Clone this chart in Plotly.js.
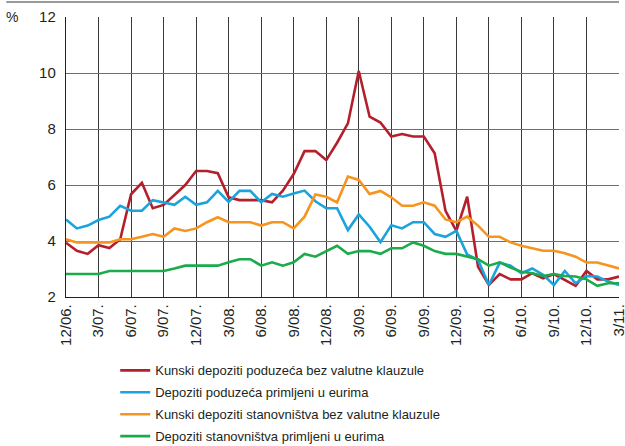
<!DOCTYPE html>
<html><head><meta charset="utf-8">
<script src="https://cdn.plot.ly/plotly-3.0.1.min.js"></script>
<style>body{margin:0;padding:0;background:#fff}#chart{width:625px;height:446px}</style>
</head><body><div id="chart"></div>
<script>
const tickLabels = ["12/06.","3/07.","6/07.","9/07.","12/07.","3/08.","6/08.","9/08.","12/08.","3/09.","6/09.","9/09.","12/09.","3/10.","6/10.","9/10.","12/10.","3/11."];
const seriesNames = ["Kunski depoziti poduzeća bez valutne klauzule","Depoziti poduzeća primljeni u eurima","Kunski depoziti stanovništva bez valutne klauzule","Depoziti stanovništva primljeni u eurima"];
const kunskiPoduzeca = [3.94,3.65,3.54,3.85,3.75,4.06,5.67,6.08,5.17,5.29,5.64,6.0,6.5,6.5,6.42,5.56,5.46,5.46,5.46,5.38,5.8,6.39,7.21,7.21,6.89,7.51,8.2,10.07,8.44,8.23,7.73,7.82,7.73,7.73,7.13,5.08,4.36,5.58,3.08,2.43,2.82,2.63,2.63,2.85,2.67,2.82,2.61,2.4,2.93,2.63,2.63,2.73];
const euroPoduzeca = [4.77,4.45,4.55,4.75,4.87,5.26,5.08,5.08,5.46,5.38,5.29,5.58,5.29,5.38,5.79,5.4,5.79,5.79,5.38,5.68,5.58,5.7,5.8,5.42,5.17,5.17,4.39,4.95,4.51,3.96,4.56,4.45,4.67,4.67,4.25,4.15,4.36,3.52,3.32,2.43,3.23,3.12,2.85,3.02,2.79,2.43,2.93,2.49,2.75,2.73,2.55,2.43];
const kunskiStanovnistva = [4.06,3.95,3.95,3.95,3.95,4.06,4.06,4.15,4.25,4.15,4.45,4.36,4.45,4.67,4.85,4.67,4.67,4.67,4.55,4.67,4.67,4.45,4.87,5.66,5.58,5.38,6.3,6.18,5.68,5.79,5.56,5.26,5.26,5.38,5.26,4.77,4.67,4.87,4.55,4.15,4.15,3.95,3.83,3.74,3.65,3.65,3.56,3.44,3.23,3.23,3.12,3.02];
const euroStanovnistva = [2.82,2.82,2.82,2.82,2.93,2.93,2.93,2.93,2.93,2.93,3.02,3.12,3.12,3.12,3.12,3.24,3.35,3.35,3.12,3.24,3.12,3.24,3.54,3.44,3.65,3.83,3.54,3.64,3.64,3.54,3.74,3.74,3.95,3.83,3.64,3.54,3.54,3.44,3.35,3.12,3.24,3.05,2.9,2.85,2.75,2.82,2.75,2.73,2.63,2.4,2.49,2.49];
const colors = ["#b3202b","#1ba3dd","#f7941e","#1bab4a"];

const xs = kunskiPoduzeca.map((_, i) => i);
const allSeries = [kunskiPoduzeca, euroPoduzeca, kunskiStanovnistva, euroStanovnistva];
const traces = allSeries.map((ys, k) => ({
  x: xs, y: ys, type: 'scatter', mode: 'lines', name: seriesNames[k], legendgroup: 'g' + k,
  line: {color: colors[k], width: 2.6}
}));
const tickVals = tickLabels.map((_, i) => i * 3);
const font = "'Liberation Sans', Arial, sans-serif";
const layout = {
  width: 625, height: 446,
  margin: {l: 66, r: 6, t: 17, b: 149, autoexpand: false},
  paper_bgcolor: '#fff', plot_bgcolor: '#fff',
  font: {family: font, size: 14, color: '#231f20'},
  showlegend: true,
  legend: {x: 0.089, xanchor: 'left', y: 0.203, yref: 'container', yanchor: 'top', orientation: 'v',
    font: {family: font, size: 13, color: '#231f20'}, tracegroupgap: 2, itemwidth: 30, bgcolor: 'rgba(0,0,0,0)'},
  xaxis: {range: [0, 51], tickmode: 'array', tickvals: tickVals, ticktext: tickLabels,
    tickangle: -90, showgrid: true, gridcolor: '#3a3a3a', gridwidth: 1, ticklabeloverflow: 'allow',
    showline: true, linecolor: '#231f20', linewidth: 1.2, ticks: '', zeroline: false,
    tickfont: {family: font, size: 15, color: '#231f20'}, fixedrange: true, automargin: false},
  yaxis: {range: [2, 12], dtick: 2, showgrid: true, gridcolor: '#6d6d6d', gridwidth: 1,
    showline: true, linecolor: '#231f20', linewidth: 1.2, ticks: '', zeroline: false,
    tickfont: {family: font, size: 15, color: '#231f20'}, ticklabelstandoff: 6, fixedrange: true, automargin: false},
  annotations: [{text: '%', xref: 'paper', yref: 'paper', x: -0.097, y: 1, xanchor: 'center', yanchor: 'middle',
    showarrow: false, font: {family: font, size: 14, color: '#231f20'}}],
  shapes: [{type: 'line', xref: 'paper', yref: 'paper', x0: -0.108, x1: 1, y0: 1.0536, y1: 1.0536,
    line: {color: '#9a9a9a', width: 2}}]
};
Plotly.newPlot('chart', traces, layout, {displayModeBar: false, staticPlot: true});
</script></body></html>
